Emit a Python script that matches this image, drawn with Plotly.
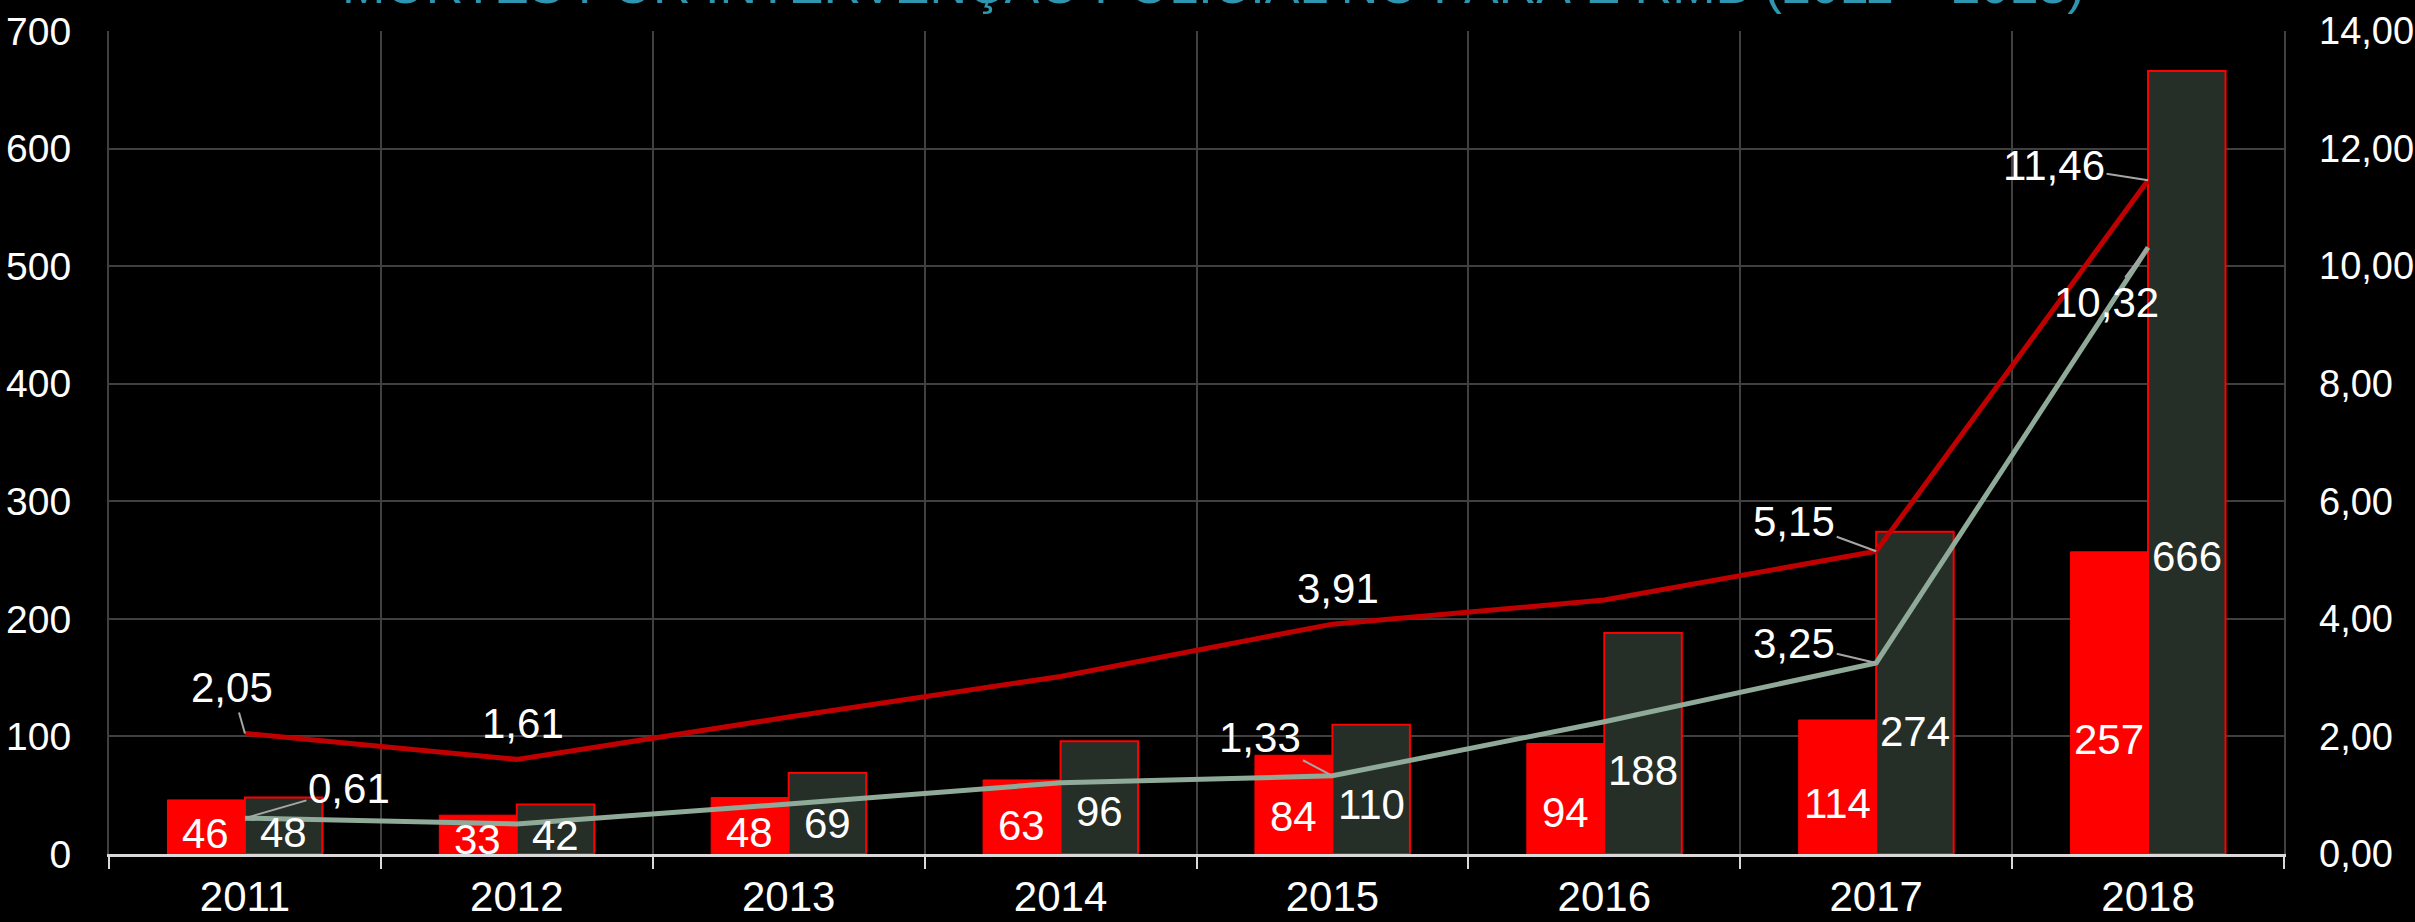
import plotly.graph_objects as go

# dados
anos = ["2011", "2012", "2013", "2014", "2015", "2016", "2017", "2018"]
mortes_rmb = [46, 33, 48, 63, 84, 94, 114, 257]
mortes_para = [48, 42, 69, 96, 110, 188, 274, 666]
taxa_rmb = [2.05, 1.61, 2.33, 3.02, 3.91, 4.32, 5.15, 11.46]
taxa_para = [0.61, 0.51, 0.85, 1.21, 1.33, 2.25, 3.25, 10.32]

# anos com rotulo nas linhas
rotulos_rmb = ["2011", "2012", "2015", "2017", "2018"]
rotulos_para = ["2011", "2015", "2017", "2018"]

titulo = "MORTES POR INTERVENÇÃO POLICIAL NO PARÁ E RMB (2011 – 2018)"

FONTE = "Liberation Sans, Arial, sans-serif"
VERMELHO = "#FF0000"
ESCURO = "#252E27"
LINHA_RMB = "#C00000"
LINHA_PARA = "#8FAA98"
GRADE = "#404040"
TAM_ROTULO = 42


def virgula(v):
    return f"{v:.2f}".replace(".", ",")


fig = go.Figure()
fig.add_trace(go.Bar(x=anos, y=mortes_rmb, name="RMB", marker_color=VERMELHO,
                     marker_line_color=VERMELHO, marker_line_width=1))
fig.add_trace(go.Bar(x=anos, y=mortes_para, name="Pará", marker_color=ESCURO,
                     marker_line_color=VERMELHO, marker_line_width=2))
fig.add_trace(go.Scatter(x=anos, y=taxa_rmb, name="Taxa RMB", mode="lines", yaxis="y2",
                         line=dict(color=LINHA_RMB, width=5)))
fig.add_trace(go.Scatter(x=anos, y=taxa_para, name="Taxa Pará", mode="lines", yaxis="y2",
                         line=dict(color=LINHA_PARA, width=5)))

anotacoes = []
# rotulos das barras (um pouco abaixo do meio da barra)
# em eixo de categorias, x da anotacao vai como indice da categoria
for i, v in enumerate(mortes_rmb):
    anotacoes.append(dict(x=i, y=v * 0.38, xref="x", yref="y", text=str(v), showarrow=False,
                          xshift=-39, font=dict(size=TAM_ROTULO, color="white", family=FONTE)))
for i, v in enumerate(mortes_para):
    anotacoes.append(dict(x=i, y=v * 0.38, xref="x", yref="y", text=str(v), showarrow=False,
                          xshift=39, font=dict(size=TAM_ROTULO, color="white", family=FONTE)))

# deslocamento dos rotulos das linhas (px)
desloc_rmb = {"2011": (-13, -46), "2012": None, "2015": None, "2017": (-82, -30), "2018": (-94, -15)}
desloc_para = {"2011": (104, -30), "2015": (-72, -38), "2017": (-82, -19), "2018": (-42, 55)}

for serie, rotulos, desloc in [(taxa_rmb, rotulos_rmb, desloc_rmb), (taxa_para, rotulos_para, desloc_para)]:
    for ano in rotulos:
        i = anos.index(ano)
        v = serie[i]
        d = desloc[ano]
        if d is None:
            anotacoes.append(dict(x=i, y=v, xref="x", yref="y2", text=virgula(v), showarrow=False,
                                  yshift=36, xshift=6, font=dict(size=TAM_ROTULO, color="white", family=FONTE)))
        else:
            anotacoes.append(dict(x=i, y=v, xref="x", yref="y2", text=virgula(v), showarrow=True,
                                  ax=d[0], ay=d[1], arrowhead=0, arrowwidth=2, arrowcolor="#A6A6A6",
                                  font=dict(size=TAM_ROTULO, color="white", family=FONTE)))

# titulo (cortado no topo da imagem original)
anotacoes.append(dict(x=0.5076, y=1, xref="paper", yref="paper", text=titulo, showarrow=False,
                      xanchor="center", yanchor="bottom", yshift=15,
                      font=dict(size=52, color="#2E96B0", family=FONTE)))

fig.update_layout(
    width=2415, height=922,
    margin=dict(l=109, r=131, t=31, b=68),
    paper_bgcolor="black", plot_bgcolor="black",
    barmode="group", bargap=0.43, bargroupgap=0,
    showlegend=False,
    separators=",.",
    font=dict(family=FONTE, color="white"),
    annotations=anotacoes,
    xaxis=dict(type="category", range=[-0.5, len(anos) - 0.5], tickson="boundaries",
               showgrid=True, gridcolor=GRADE, gridwidth=2, automargin=False,
               showline=True, linecolor="#D9D9D9", linewidth=3,
               ticks="outside", ticklen=12, tickwidth=2, tickcolor="#D9D9D9",
               tickfont=dict(size=42, color="white"), tickangle=0, ticklabelstandoff=4),
    yaxis=dict(range=[0, 700], dtick=100, showgrid=True, gridcolor=GRADE, gridwidth=2,
               zeroline=False, showline=True, linecolor=GRADE, linewidth=2, mirror=True,
               automargin=False, tickfont=dict(size=39, color="white"), ticklabelstandoff=28),
    yaxis2=dict(range=[0, 14], dtick=2, overlaying="y", side="right", showgrid=False,
                zeroline=False, tickformat=".2f", tickfont=dict(size=38, color="white"),
                automargin=False, ticklabelstandoff=34),
)

fig.write_html("out.html", config={"displayModeBar": False},
               post_script="document.body.style.margin='0';")
